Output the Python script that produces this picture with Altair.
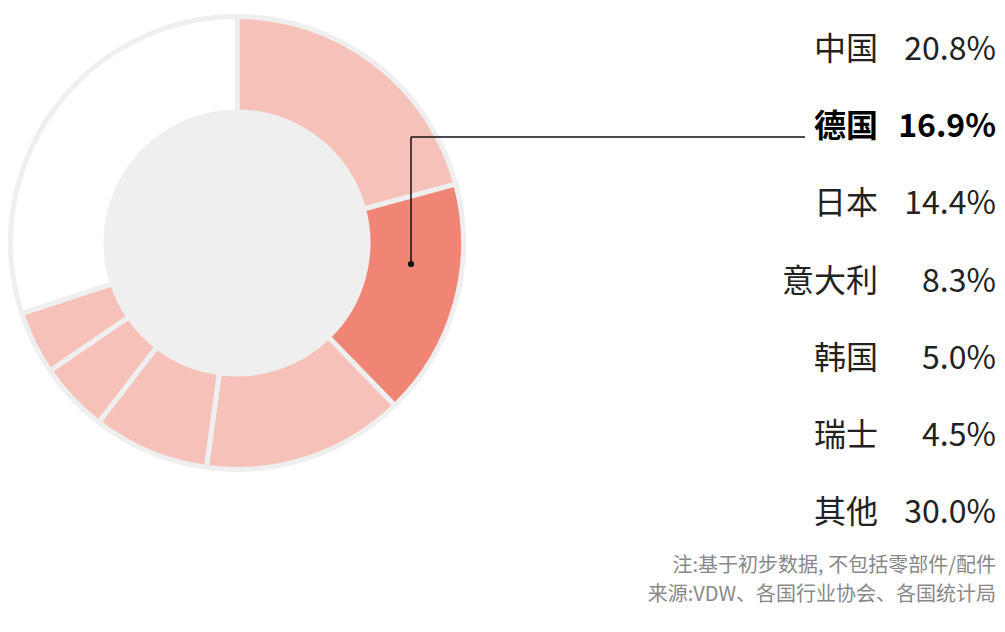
import altair as alt
import pandas as pd

countries = ["中国", "德国", "日本", "意大利", "韩国", "瑞士", "其他"]
shares = [20.8, 16.9, 14.4, 8.3, 5.0, 4.5, 30.0]
labels = ["20.8%", "16.9%", "14.4%", "8.3%", "5.0%", "4.5%", "30.0%"]
highlight = "德国"
notes = ["注:基于初步数据, 不包括零部件/配件", "来源:VDW、各国行业协会、各国统计局"]

df = pd.DataFrame({
    "country": countries,
    "share": shares,
    "label": labels,
    "idx": list(range(len(countries))),
})

FONT = "Noto Sans CJK SC"
CX, CY = 229, 235
LIGHT = "#f6c1b8"
DARK = "#f08575"
RING = "#efefef"

color_range = [DARK if c == highlight else ("#ffffff" if c == "其他" else LIGHT) for c in countries]

base = alt.Chart(df)

donut = base.mark_arc(
    outerRadius=226.5, innerRadius=131, stroke=RING, strokeWidth=5
).encode(
    x=alt.value(CX), y=alt.value(CY),
    theta=alt.Theta("share:Q", stack=True, scale=alt.Scale(range=[0, 6.2832])),
    order=alt.Order("idx:Q"),
    color=alt.Color("country:N", scale=alt.Scale(domain=countries, range=color_range), legend=None),
)

center = alt.Chart(pd.DataFrame({"v": [1]})).mark_arc(
    outerRadius=132, innerRadius=0, fill=RING
).encode(
    x=alt.value(CX), y=alt.value(CY),
    theta=alt.Theta("v:Q"),
)

ptr_df = pd.DataFrame({"country": [highlight]})
PX = CX + 174
vline = alt.Chart(ptr_df).mark_rule(color="#111", strokeWidth=1.5).encode(
    x=alt.value(PX), y=alt.value(256), y2=alt.value(129)
)
hline = alt.Chart(ptr_df).mark_rule(color="#111", strokeWidth=1.5).encode(
    x=alt.value(PX), x2=alt.value(797), y=alt.value(129)
)
dot = alt.Chart(ptr_df).mark_circle(color="#111", opacity=1, size=38).encode(
    x=alt.value(PX), y=alt.value(256)
)

yscale = alt.Scale(type="point", domain=countries, range=[42, 505], padding=0)


def text_layer(field, xpos, bold):
    cond = (alt.datum.country == highlight) if bold else (alt.datum.country != highlight)
    return base.transform_filter(cond).mark_text(
        align="right", baseline="middle", font=FONT, fontSize=32,
        fontWeight="bold" if bold else "normal",
        color="#000000" if bold else "#222222",
    ).encode(
        x=alt.value(xpos),
        y=alt.Y("country:N", scale=yscale, axis=None),
        text=f"{field}:N",
    )


names_n = text_layer("country", 870, False)
names_b = text_layer("country", 870, True)
vals_n = text_layer("label", 988, False)
vals_b = text_layer("label", 988, True)

note_df = pd.DataFrame({"line": notes, "i": [0, 1]})
note_text = alt.Chart(note_df).mark_text(
    align="right", baseline="middle", font=FONT, fontSize=20, color="#888888"
).encode(
    x=alt.value(988),
    y=alt.Y("i:O", scale=alt.Scale(type="point", range=[558, 587], padding=0), axis=None),
    text="line:N",
)

chart = alt.layer(
    donut, center, vline, hline, dot, names_n, names_b, vals_n, vals_b, note_text
).resolve_scale(
    y="independent", color="independent", theta="independent"
).properties(
    width=989, height=616, padding=0, autosize=alt.AutoSizeParams(type="none")
).configure_view(stroke=None)

chart.save("out.html", embed_options={"renderer": "svg", "actions": False})
